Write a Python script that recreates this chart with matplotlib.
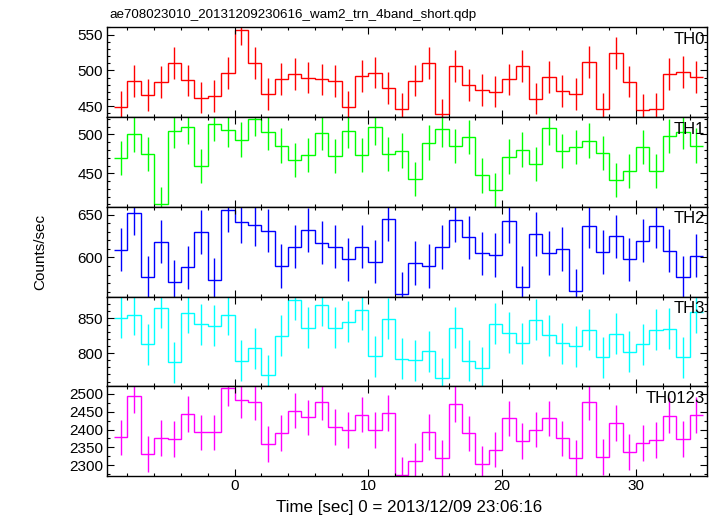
import numpy as np
import matplotlib
matplotlib.use("Agg")
import matplotlib.pyplot as plt
from matplotlib.ticker import MultipleLocator

plt.rcParams['font.family'] = ['Liberation Sans', 'DejaVu Sans']

title = "ae708023010_20131209230616_wam2_trn_4band_short.qdp"
xlabel = "Time [sec] 0 = 2013/12/09 23:06:16"
ylabel = "Counts/sec"

# 1-second bins starting at t = -9 s
t_start = -9
bin_width = 1.0

band_names = ["TH0", "TH1", "TH2", "TH3", "TH0123"]
band_colors = ["#ff0000", "#00ff00", "#0000ff", "#00ffff", "#ff00ff"]

th0 = [449, 485, 465.5, 484, 510, 486, 462, 464, 496, 557, 510.6, 467, 488, 495,
       490, 487.5, 485, 449, 492.6, 497, 475.6, 446.5, 485.7, 510.6, 438.7, 506,
       479.7, 472.8, 470.5, 487.6, 506, 460.8, 491, 471.4, 466.8, 512, 446, 524,
       484.3, 445, 446.5, 495.4, 497.7, 490.8]
th1 = [469.4, 500, 475.4, 410, 504.7, 509.5, 459.5, 513, 505.6, 493.5, 520, 502.6,
       485.8, 467.7, 473.7, 501.7, 472, 504.7, 473.3, 509, 475, 479.3, 443, 489.7,
       506.5, 485, 496.6, 447.4, 428.4, 471.6, 480.6, 462.5, 508.2, 478.9, 483.6,
       492.2, 476.3, 441.4, 453.4, 483.6, 453.4, 498.3, 503, 485.8]
th2 = [609.3, 652.3, 576.7, 618.6, 571, 588.4, 629.8, 574, 655.8, 641.9, 638.4,
       631.4, 590.3, 612.8, 632.2, 617.4, 612.8, 597.7, 612.8, 595.3, 645, 557,
       593.4, 590.3, 612.4, 643.4, 623.6, 604.7, 602.7, 642.6, 565.1, 627.5, 605,
       610, 560.9, 636.4, 606.2, 624.8, 597.7, 619.8, 636.8, 608.1, 576.7, 602.3]
th3 = [850.5, 854.7, 813, 864.5, 787.4, 857.5, 841, 839.3, 854.7, 789.3, 807, 769.2,
       825.2, 876.2, 836.4, 867.8, 836.4, 844.9, 861.7, 795.8, 849, 792.5, 790.2,
       802.8, 765, 836, 789.3, 779.4, 842, 829.4, 814.5, 847.7, 825.7, 814.5, 809.8,
       833.2, 794.4, 828, 801.9, 813, 833.6, 835, 794.4, 858]
th0123 = [2378, 2495, 2332, 2376, 2373, 2444, 2392, 2392, 2515, 2483, 2476, 2359,
          2390, 2453, 2434, 2477, 2408, 2398, 2442, 2398, 2447, 2274, 2313, 2393,
          2321, 2471, 2389, 2304, 2344, 2431, 2367, 2400, 2431, 2375, 2320, 2476,
          2323, 2418, 2337, 2362, 2371, 2439, 2373, 2440]
band_values = [th0, th1, th2, th3, th0123]

# typical 1-sigma error per band
band_errors = [22, 22, 25.5, 29, 50]

# axis ranges and ticks
x_range = (-9.55, 35.3)
y_ranges = [(435, 560), (407, 522.4), (554.3, 659.3), (753.3, 880.4), (2270, 2521)]
y_major = [50, 50, 50, 50, 50]
y_minor = [10, 10, 10, 10, 25]

fig = plt.figure(figsize=(7.17, 5.16), dpi=100)
axes = fig.subplots(5, 1, sharex=True)
fig.subplots_adjust(left=0.1488, right=0.986, top=0.947, bottom=0.0775, hspace=0)

for ax, name, col, vals, err, yr, ymaj, ymin in zip(
        axes, band_names, band_colors, band_values, band_errors, y_ranges, y_major, y_minor):
    vals = np.asarray(vals, dtype=float)
    n = len(vals)
    edges = t_start + bin_width * np.arange(n + 1)
    centers = 0.5 * (edges[:-1] + edges[1:])
    ax.stairs(vals, edges, color=col, lw=1.0, baseline=None)
    ax.errorbar(centers, vals, yerr=err, fmt='none', ecolor=col, elinewidth=1.0, capsize=0)
    ax.set_xlim(*x_range)
    ax.set_ylim(*yr)
    ax.yaxis.set_major_locator(MultipleLocator(ymaj))
    ax.yaxis.set_minor_locator(MultipleLocator(ymin))
    ax.xaxis.set_major_locator(MultipleLocator(10))
    ax.xaxis.set_minor_locator(MultipleLocator(2))
    ax.tick_params(which='both', direction='in', top=True, right=True, labelsize=11, width=0.8)
    ax.tick_params(which='major', length=5, pad=2.5)
    ax.tick_params(which='minor', length=2.5)
    for s in ax.spines.values():
        s.set_linewidth(1.0)
    ax.text(0.997, 0.95, name, transform=ax.transAxes, ha='right', va='top', fontsize=12)

fig.text(0.153, 1 - 21 / 516, title, ha='left', va='bottom', fontsize=9.6)
fig.text(0.056, 0.512, ylabel, rotation=90, ha='center', va='center', fontsize=11)
fig.text(0.571, 0.017, xlabel, ha='center', va='center', fontsize=12.2)

fig.savefig("out.png", dpi=100)
